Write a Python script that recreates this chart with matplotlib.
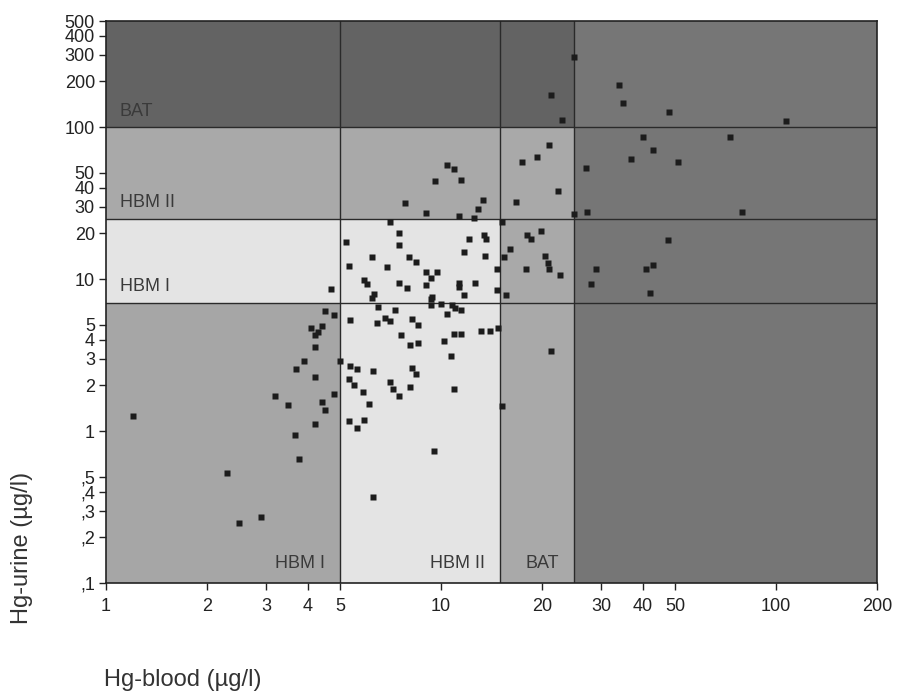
import numpy as np
import matplotlib
matplotlib.use('Agg')
import matplotlib.pyplot as plt
from matplotlib.patches import Rectangle

plt.rcParams['font.family'] = ['Liberation Sans', 'DejaVu Sans']

# threshold values (HBM I, HBM II, BAT)
blood_limits = [5, 15, 25]
urine_limits = [7, 25, 100]
limit_names = ['HBM I', 'HBM II', 'BAT']

# measured values, blood / urine in ug/l
hg_blood = [1.2, 2.3, 2.5, 2.9, 3.2, 3.5, 3.66, 3.76, 3.7, 3.9, 4.2, 4.2, 4.4, 4.5,
            4.8, 5.0, 4.2, 4.1, 4.2, 4.3, 4.4, 4.5, 4.8, 4.7,
            5.35, 6.43, 6.8, 7.04, 8.18, 8.55, 7.6, 8.08, 8.55, 10.4, 10.9, 11.5,
            10.2, 13.2, 14.0, 14.8, 10.7, 5.35, 5.6, 6.28, 8.18, 8.42, 5.3, 5.5,
            7.04, 7.2, 7.5, 8.1, 10.9, 5.84, 6.1, 5.3, 5.6, 5.9, 9.5, 6.25, 6.5,
            7.3, 10.0, 9.3, 10.8, 11.0, 11.5,
            7.06, 7.5, 7.5, 5.2, 12.1, 13.4, 13.6, 6.2, 8.0, 8.4, 11.7, 13.5, 5.3,
            6.9, 5.9, 6.0, 6.3, 6.2, 7.5, 7.9, 9.0, 9.3, 9.7, 9.0, 11.3, 11.3,
            12.6, 11.7, 9.4, 9.3, 14.7, 14.7,
            15.2, 15.4, 15.6, 16.1, 17.9, 18.0, 18.5, 19.9, 20.4, 20.8, 21.0, 22.6,
            15.2, 21.3, 16.7, 17.4, 19.3, 21.0, 22.4, 25.0, 21.3, 23.0, 25.0,
            10.4, 10.9, 9.6, 11.5, 7.8, 13.3, 12.9, 9.0, 11.3, 12.5,
            34, 35, 48, 107, 40, 73, 43, 37, 51, 27, 27.2, 79, 47.5, 29, 41, 43,
            28, 42]
hg_urine = [1.26, 0.53, 0.25, 0.27, 1.7, 1.48, 0.94, 0.65, 2.56, 2.9, 2.28, 1.12, 1.56,
            1.37, 1.75, 2.9, 3.6, 4.74, 4.28, 4.5, 4.93, 6.2, 5.8, 8.6,
            5.4, 5.11, 5.51, 5.29, 5.46, 4.98, 4.3, 3.68, 3.78, 5.9, 4.33, 4.33,
            3.9, 4.57, 4.57, 4.74, 3.13, 2.69, 2.56, 2.48, 2.61, 2.36, 2.2, 2.0,
            2.11, 1.88, 1.7, 1.96, 1.89, 1.8, 1.5, 1.16, 1.05, 1.19, 0.74, 0.37, 6.6,
            6.25, 6.9, 6.8, 6.75, 6.41, 6.25,
            23.8, 20.2, 16.9, 17.6, 18.5, 19.5, 18.5, 14.0, 14.0, 12.9, 15.1, 14.2,
            12.2, 12.0, 9.9, 9.3, 8.0, 7.5, 9.4, 8.7, 11.1, 10.2, 11.1, 9.2, 9.4,
            8.9, 9.4, 7.85, 7.65, 7.4, 11.6, 8.5,
            23.6, 13.9, 7.9, 15.8, 11.7, 19.5, 18.5, 20.6, 14.2, 12.8, 11.6, 10.6,
            1.46, 3.36, 32, 59, 64, 76, 38, 27, 164, 111, 290,
            56, 53, 44, 45, 31.5, 33, 29, 27.3, 26, 25.1,
            190, 145, 125, 110, 86, 86, 71, 62, 59, 54, 27.7, 27.7, 18, 11.7, 11.6,
            12.3, 9.3, 8.1]

x_ticks = [1, 2, 3, 4, 5, 10, 20, 30, 40, 50, 100, 200]
y_ticks = [0.1, 0.2, 0.3, 0.4, 0.5, 1, 2, 3, 4, 5, 10, 20, 30, 40, 50,
           100, 200, 300, 400, 500]
y_ticklabels = [',1', ',2', ',3', ',4', ',5', '1', '2', '3', '4', '5', '10', '20',
                '30', '40', '50', '100', '200', '300', '400', '500']

x_edges = [1] + blood_limits + [200]
y_edges = [0.1] + urine_limits + [500]
level_colors = ['#a6a6a6', '#e4e4e4', '#a9a9a9', '#767676']

fig = plt.figure(figsize=(8.97, 6.93), dpi=100)
ax = fig.add_axes([106 / 897, 1 - 583 / 693, 771 / 897, 562 / 693])
ax.set_xscale('log')
ax.set_yscale('log')
ax.set_xlim(1, 200)
ax.set_ylim(0.1, 500)

# shaded zones: the higher of the two levels decides the shade
for i in range(4):
    for j in range(4):
        lvl = max(i, j)
        col = level_colors[lvl]
        if j == 3 and i < 3:
            col = '#636363'
        ax.add_patch(Rectangle((x_edges[i], y_edges[j]),
                               x_edges[i + 1] - x_edges[i], y_edges[j + 1] - y_edges[j],
                               facecolor=col, edgecolor='none', zorder=0))

for v in blood_limits:
    ax.axvline(v, color='#2a2a2a', lw=1.0, zorder=1)
for v in urine_limits:
    ax.axhline(v, color='#2a2a2a', lw=1.0, zorder=1)

# zone labels
for name, v in zip(limit_names, urine_limits):
    ax.text(1.1, v * 1.12, name, fontsize=13, color='#3a3a3a', va='bottom', ha='left')
for name, v in zip(limit_names, blood_limits):
    ax.text(v * 0.9, 0.118, name, fontsize=13, color='#3a3a3a', va='bottom', ha='right')

ax.plot(hg_blood, hg_urine, 's', ms=5, color='#1c1c1c', mec='none', zorder=3)

ax.set_xticks(x_ticks)
ax.set_xticklabels([str(t) for t in x_ticks])
ax.set_xticks([], minor=True)
ax.set_yticks(y_ticks)
ax.set_yticklabels(y_ticklabels)
ax.set_yticks([], minor=True)
ax.tick_params(labelsize=13, colors='#222222', length=5, width=1, pad=3)
ax.tick_params(axis='x', pad=6)
for s in ax.spines.values():
    s.set_color('#222222')
    s.set_linewidth(1.2)

fig.text(22 / 897, 1 - 548 / 693, 'Hg-urine (µg/l)', rotation=90, fontsize=17,
         color='#333333', ha='center', va='center')
fig.text(104 / 897, 1 - 680 / 693, 'Hg-blood (µg/l)', fontsize=17,
         color='#333333', ha='left', va='center')

fig.savefig('out.png', dpi=100)
